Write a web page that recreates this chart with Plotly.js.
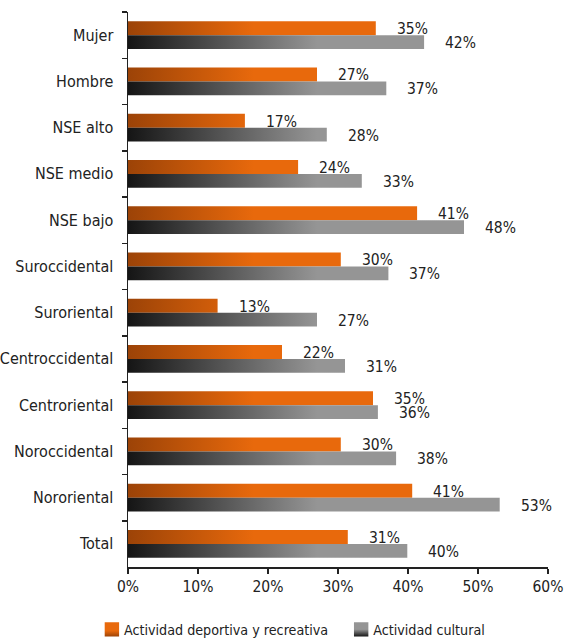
<!DOCTYPE html>
<html>
<head>
<meta charset="utf-8">
<script src="https://cdn.plot.ly/plotly-3.0.1.min.js"></script>
<style>
  html, body { margin: 0; padding: 0; background: #fff; }
  #chart { width: 565px; height: 638px; }
  #chart text { font-stretch: condensed !important; }
</style>
</head>
<body>
<div id="chart"></div>
<script>
const categories = ["Mujer", "Hombre", "NSE alto", "NSE medio", "NSE bajo", "Suroccidental",
  "Suroriental", "Centroccidental", "Centroriental", "Noroccidental", "Nororiental", "Total"];
const deportiva = [35.4, 27.0, 16.7, 24.3, 41.3, 30.4, 12.8, 22.0, 35.0, 30.4, 40.6, 31.4];
const cultural  = [42.3, 36.9, 28.4, 33.4, 48.0, 37.2, 27.0, 31.0, 35.7, 38.3, 53.1, 39.9];
const seriesNames = ["Actividad deportiva y recreativa", "Actividad cultural"];
const xTicks = [0, 10, 20, 30, 40, 50, 60];

const FONT = "'DejaVu Sans Condensed', 'DejaVu Sans', sans-serif";

const traces = [
  { type: "bar", orientation: "h", name: seriesNames[0], y: categories, x: deportiva,
    marker: { color: "#E8690C" }, hoverinfo: "skip" },
  { type: "bar", orientation: "h", name: seriesNames[1], y: categories, x: cultural,
    marker: { color: "#959595" }, hoverinfo: "skip" }
];

const annotations = [];
categories.forEach((c, i) => {
  annotations.push({ x: deportiva[i], y: c, xref: "x", yref: "y", text: Math.round(deportiva[i]) + "%",
    showarrow: false, xanchor: "left", yanchor: "middle", xshift: 19, yshift: 6,
    font: { family: FONT, size: 15.5, color: "#222" } });
  annotations.push({ x: cultural[i], y: c, xref: "x", yref: "y", text: Math.round(cultural[i]) + "%",
    showarrow: false, xanchor: "left", yanchor: "middle", xshift: 19, yshift: -8,
    font: { family: FONT, size: 15.5, color: "#222" } });
});

const layout = {
  width: 565, height: 638,
  margin: { l: 128, r: 17, t: 12, b: 71, autoexpand: false },
  paper_bgcolor: "#fff", plot_bgcolor: "#fff",
  font: { family: FONT, size: 15.5, color: "#222" },
  barmode: "group", bargap: 0.4, bargroupgap: 0,
  showlegend: true,
  legend: { orientation: "h", x: -0.105, xanchor: "left", y: -0.084, yanchor: "top",
    font: { family: FONT, size: 14.2, color: "#222" }, traceorder: "normal",
    tracegroupgap: 0 },
  xaxis: { range: [0, 60], tickvals: xTicks, ticktext: xTicks.map(v => v + "%"),
    showgrid: false, zeroline: false, showline: true, linecolor: "#222", linewidth: 1.5,
    ticks: "outside", ticklen: 5, tickcolor: "#222", tickwidth: 1.5, fixedrange: true,
    ticklabeloverflow: "allow", tickfont: { family: FONT, size: 15.5, color: "#222" } },
  yaxis: { autorange: "reversed", type: "category", showgrid: false, zeroline: false,
    showline: true, linecolor: "#222", linewidth: 1.5, ticks: "outside", ticklen: 5,
    tickcolor: "#222", tickwidth: 1.5, tickson: "boundaries", ticklabelstandoff: 10, fixedrange: true,
    tickfont: { family: FONT, size: 16, color: "#222" } },
  annotations: annotations
};

function addGradient(defs, id, stops, attrs) {
  const ns = "http://www.w3.org/2000/svg";
  const g = document.createElementNS(ns, "linearGradient");
  g.setAttribute("id", id);
  Object.keys(attrs).forEach(k => g.setAttribute(k, attrs[k]));
  stops.forEach(s => {
    const st = document.createElementNS(ns, "stop");
    st.setAttribute("offset", s[0]);
    st.setAttribute("stop-color", s[1]);
    g.appendChild(st);
  });
  defs.appendChild(g);
}

Plotly.newPlot("chart", traces, layout, { displayModeBar: false, staticPlot: true }).then(gd => {
  const svg = gd.querySelector("svg.main-svg");
  let defs = svg.querySelector("defs");
  if (!defs) { defs = document.createElementNS("http://www.w3.org/2000/svg", "defs"); svg.insertBefore(defs, svg.firstChild); }
  const xa = gd._fullLayout.xaxis;
  const x0 = xa.d2p(0);
  addGradient(defs, "gradO", [[0, "#9C4307"], [1, "#E8690C"]],
    { gradientUnits: "userSpaceOnUse", x1: x0, y1: 0, x2: xa.d2p(18), y2: 0 });
  addGradient(defs, "gradG", [[0, "#151515"], [1, "#959595"]],
    { gradientUnits: "userSpaceOnUse", x1: x0, y1: 0, x2: xa.d2p(27), y2: 0 });
  addGradient(defs, "gradOL", [[0, "#E8690C"], [0.6, "#E8690C"], [1, "#9C4307"]],
    { x1: 0, y1: 0, x2: 0, y2: 1 });
  addGradient(defs, "gradGL", [[0, "#959595"], [0.5, "#959595"], [1, "#151515"]],
    { x1: 0, y1: 0, x2: 0, y2: 1 });
  const tr = gd.querySelectorAll(".barlayer .trace");
  const ids = ["gradO", "gradG"];
  tr.forEach((t, i) => t.querySelectorAll("path").forEach(p => { p.style.fill = "url(#" + ids[i] + ")"; }));
  const lt = gd.querySelectorAll(".legend .traces");
  const lids = ["gradOL", "gradGL"];
  lt.forEach((t, i) => {
    const lp = t.querySelector(".legendpoints");
    if (lp) lp.setAttribute("transform", "translate(4,0) scale(1.2)");
    t.querySelectorAll(".legendpoints path").forEach(p => { p.style.fill = "url(#" + lids[i] + ")"; });
  });
});
</script>
</body>
</html>
